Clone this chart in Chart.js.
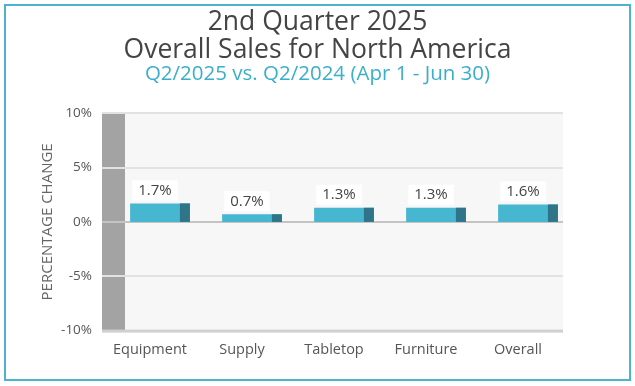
<!DOCTYPE html>
<html>
<head>
<meta charset="utf-8">
<script src="https://cdn.jsdelivr.net/npm/chart.js@4.4.1/dist/chart.umd.min.js"></script>
<style>
  html, body { margin: 0; padding: 0; background: #fff; }
  #wrap { position: relative; width: 635px; height: 386px; }
  #frame { position: absolute; left: 4px; top: 4px; width: 623px; height: 373px; border: 2px solid #4db4cf; box-sizing: content-box; pointer-events: none; }
</style>
</head>
<body>
<div id="wrap">
  <canvas id="chart" width="635" height="386"></canvas>
  <div id="frame"></div>
</div>
<script>
// categorie e valori (variazione percentuale)
const categories = ['Equipment', 'Supply', 'Tabletop', 'Furniture', 'Overall'];
const changes = [1.7, 0.7, 1.3, 1.3, 1.6];
const yTicks = [-10, -5, 0, 5, 10];

const FONT = '"Open Sans", Lato, sans-serif';

// sfondo "3D": parete grigia a sinistra, pavimento e griglia
const backdrop = {
  id: 'backdrop',
  beforeDatasetsDraw(chart) {
    const { ctx, chartArea, scales } = chart;
    const y = scales.y;
    const top = y.getPixelForValue(10), bottom = y.getPixelForValue(-10);
    const wallL = chartArea.left - 12, wallR = chartArea.left + 11, backR = chartArea.right - 11;
    ctx.save();
    ctx.fillStyle = '#f7f7f7';
    ctx.fillRect(wallR, top, backR - wallR, bottom - top);
    ctx.fillStyle = '#a3a3a3';
    ctx.fillRect(wallL, top, wallR - wallL, bottom - top);
    yTicks.forEach(v => {
      const py = Math.round(y.getPixelForValue(v));
      ctx.fillStyle = v === 0 ? '#c4c4c4' : '#e2e2e2';
      ctx.fillRect(wallL, py - 1, backR - wallL, 2);
    });
    ctx.fillStyle = '#d0d0d0';
    ctx.fillRect(wallL, bottom - 1, backR - wallL, 3);
    ctx.restore();
  },
  afterDatasetsDraw(chart) {
    const { ctx } = chart;
    const meta = chart.getDatasetMeta(0);
    ctx.save();
    meta.data.forEach((bar, i) => {
      const p = bar.getProps(['x', 'y', 'base', 'width'], true);
      // lato scuro della barra
      ctx.fillStyle = '#2f7488';
      ctx.fillRect(p.x + p.width / 2 - 10, p.y, 10, p.base - p.y);
      // etichetta valore con box bianco
      const txt = changes[i].toFixed(1) + '%';
      ctx.font = '15px ' + FONT;
      const w = ctx.measureText(txt).width;
      const cx = p.x - 5, cy = p.y - 13;
      ctx.fillStyle = '#ffffff';
      ctx.fillRect(cx - w / 2 - 6, cy - 10, w + 12, 20);
      ctx.fillStyle = '#444';
      ctx.textAlign = 'center';
      ctx.textBaseline = 'middle';
      ctx.fillText(txt, cx, cy);
    });
    ctx.restore();
  }
};

new Chart(document.getElementById('chart'), {
  type: 'bar',
  data: {
    labels: categories,
    datasets: [{
      data: changes,
      backgroundColor: '#47b6d0',
      borderWidth: 0,
      barPercentage: 0.65,
      categoryPercentage: 1
    }]
  },
  options: {
    responsive: false,
    animation: false,
    layout: { padding: { left: 0, right: 0, top: 0, bottom: 24 } },
    plugins: {
      legend: { display: false },
      tooltip: { enabled: false },
      title: {
        display: true,
        text: ['2nd Quarter 2025', 'Overall Sales for North America'],
        color: '#444',
        font: { family: FONT, size: 26.5, weight: 'normal', lineHeight: 1.07 },
        padding: { top: 8, bottom: 0 }
      },
      subtitle: {
        display: true,
        text: 'Q2/2025 vs. Q2/2024 (Apr 1 - Jun 30)',
        color: '#3aafca',
        font: { family: FONT, size: 20.5, weight: 'normal', lineHeight: 0.9 },
        padding: { top: 0, bottom: 30 }
      }
    },
    scales: {
      x: {
        grid: { display: false },
        border: { display: false },
        ticks: { color: '#555', font: { family: FONT, size: 14.5 }, labelOffset: -10, padding: 3 }
      },
      y: {
        min: -10, max: 10,
        afterFit(scale) { scale.width = 114; },
        grid: { display: false },
        border: { display: false },
        ticks: {
          stepSize: 5,
          padding: 14,
          color: '#555',
          font: { family: FONT, size: 13.5 },
          callback: v => v + '%'
        },
        title: {
          display: true,
          text: 'PERCENTAGE CHANGE',
          color: '#666',
          font: { family: FONT, size: 15 },
          padding: { top: 39, bottom: 0 }
        }
      },
      // asse vuoto a destra: solo per riservare spazio
      yRight: {
        position: 'right',
        min: -10, max: 10,
        afterFit(scale) { scale.width = 61; },
        grid: { display: false },
        border: { display: false },
        ticks: { display: false }
      }
    }
  },
  plugins: [backdrop]
});
</script>
</body>
</html>
